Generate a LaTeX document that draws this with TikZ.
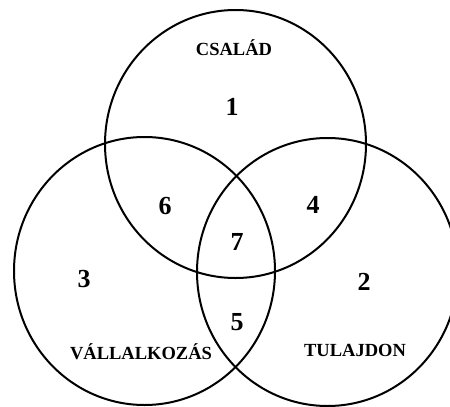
\documentclass[tikz,border=0pt]{standalone}
\usepackage{fontspec}
\setmainfont{Liberation Serif}
\begin{document}
\begin{tikzpicture}[x=1pt,y=-1pt,
  ring/.style={draw=black,line width=2pt},
  num/.style={inner sep=0pt,font=\fontsize{26}{26}\selectfont\bfseries},
  lbl/.style={inner sep=0pt,font=\fontsize{18.5}{18.5}\selectfont\bfseries}]
\useasboundingbox (0,0) rectangle (450,407);
\clip (0,0) rectangle (450,407);
\draw[ring] (235.5,144) ellipse [x radius=130.5, y radius=134];
\draw[ring] (144.5,271) ellipse [x radius=130.5, y radius=134];
\draw[ring] (327.5,272) ellipse [x radius=130.5, y radius=134];
\node[lbl] (csalad) at (234,48) {CSALÁD};
\node[lbl] (vallalkozas) at (141,352) {VÁLLALKOZÁS};
\node[lbl] (tulajdon) at (355,350) {TULAJDON};
\node[num] (n1) at (232,107) {1};
\node[num] (n2) at (364,282) {2};
\node[num] (n3) at (84,279) {3};
\node[num] (n4) at (313,205) {4};
\node[num] (n5) at (237,322) {5};
\node[num] (n6) at (165,206) {6};
\node[num] (n7) at (237,242) {7};
\end{tikzpicture}
\end{document}
